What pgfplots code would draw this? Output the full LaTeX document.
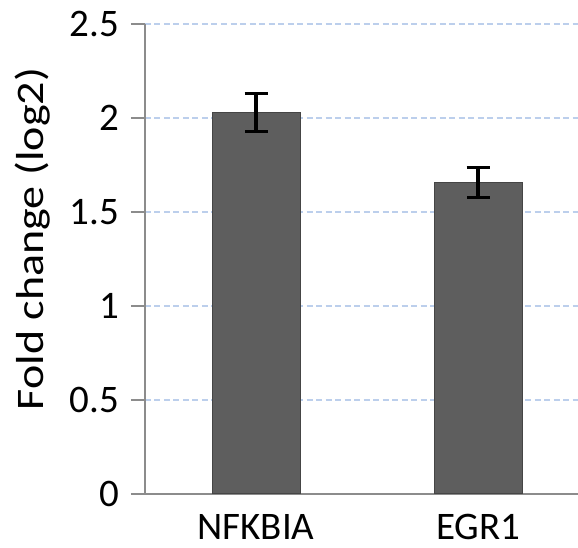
\documentclass[border=0pt]{standalone}
\usepackage{pgfplots}
\pgfplotsset{compat=1.18}
\usepackage{fontspec}
\setmainfont{Carlito}
\definecolor{axgray}{HTML}{8C8C8C}
\definecolor{gridblue}{HTML}{BCCFEC}
\definecolor{barfill}{HTML}{5E5E5E}
\definecolor{baredge}{HTML}{454545}
\begin{document}
\begin{tikzpicture}
\useasboundingbox (-145pt,-54pt) rectangle (433pt,494pt);
\begin{axis}[
  at={(0pt,0pt)}, anchor=south west,
  scale only axis, width=433pt, height=470pt,
  xmin=-0.5, xmax=1.45, ymin=0, ymax=2.5,
  ytick={0,0.5,1,1.5,2,2.5},
  xtick={0,1}, xticklabels={NFKBIA,EGR1},
  axis x line*=bottom, axis y line*=left,
  axis line style={draw=axgray, line width=2.2pt},
  tick align=outside,
  major tick length=14pt,
  ytick style={draw=axgray, line width=2.2pt},
  xtick style={draw=none},
  ymajorgrids,
  grid style={draw=gridblue, line width=2pt, dash pattern=on 6pt off 3.5pt},
  /pgf/number format/assume math mode=true,
  tick label style={font=\fontsize{39}{40}\selectfont, text=black},
  yticklabel style={anchor=east, inner sep=0pt, xshift=-12pt},
  xticklabel style={anchor=base, inner sep=0pt, yshift=-31pt},
  ylabel={\scalebox{1.18}[1]{Fold change (log2)}},
  ylabel style={font=\fontsize{39}{40}\selectfont, at={(rel axis cs:-0.2587,0.5426)}, anchor=center, rotate=0},
  clip=false,
]
\addplot[ybar, bar width=88pt, fill=barfill, draw=baredge, line width=1pt,
  error bars/.cd, y dir=both, y explicit,
  error bar style={line width=3.2pt, draw=black},
  error mark options={rotate=90, line width=3.2pt, mark size=11.5pt, draw=black}]
  coordinates {
    (0,2.03) +- (0,0.10)
    (1,1.655) +- (0,0.08)
  };
\end{axis}
\end{tikzpicture}
\end{document}
